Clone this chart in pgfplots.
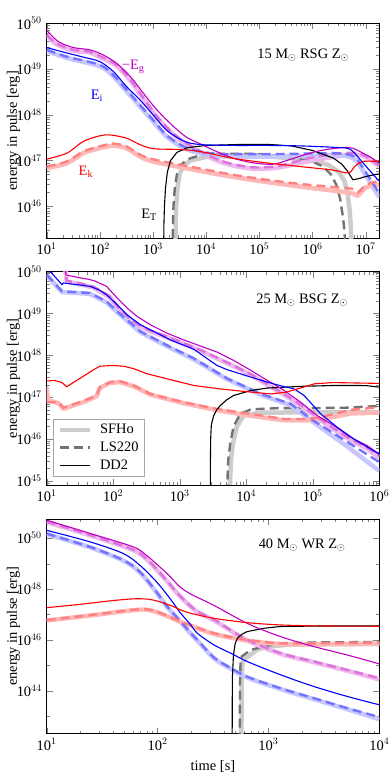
\documentclass[border=0pt]{standalone}
\usepackage{fontspec}
\setmainfont{Liberation Serif}
\usepackage{pgfplots}
\pgfplotsset{compat=1.18}
\definecolor{mag}{rgb}{0.75,0,0.75}
\pgfplotsset{
  every axis/.append style={
    scale only axis, width=332.6bp, xmin=10, anchor=north west,
    xticklabel={10\textsuperscript{\pgfmathprintnumber[fixed,precision=0]{\tick}}},
    yticklabel={10\textsuperscript{\pgfmathprintnumber[fixed,precision=0]{\tick}}},
    ylabel={energy in pulse [erg]},
    ylabel style={at={(axis description cs:-0.1,0.5)}, anchor=center, rotate=0},
    major tick length=6bp, minor tick length=3bp,
    axis line style={line width=0.8bp},
  },
  sf/.style={line width=4.5bp, line join=round, forget plot},
  ls/.style={line width=2.4bp, dash pattern=on 9bp off 5bp, forget plot},
  dd/.style={line width=1.1bp, forget plot},
}
\begin{document}
\fontsize{14.5}{17.4}\selectfont
\begin{tikzpicture}
\path[use as bounding box] (0,0) rectangle (390bp,-781bp);
%% ---------------- panel 1 ----------------
\begin{axis}[xmode=log, ymode=log, log basis x=10, log basis y=10,
  at={(46.67bp,-23.3bp)}, height=215bp,
  xmax=1.8e7, ymin=2e45, ymax=1e50]
\addplot[sf, black!20] coordinates {(2630,1e45)(2660,3.98e45)(2720,1e46)(2880,2.51e46)(3160,5.01e46)(3720,7.6e46)(5010,1.0e47)(1e4,1.2e47)(31620,1.26e47)(1e5,1.26e47)(3.16e5,1.15e47)(1e6,1.0e47)(2e6,8.0e46)(3.16e6,5.5e46)(4.0e6,3.5e46)(4.6e6,1.8e46)(5.0e6,8e45)(5.25e6,3.5e45)(5.4e6,1e45)};
\addplot[ls, black!55] coordinates {(2344,1e45)(2371,3.98e45)(2427,1e46)(2570,2.51e46)(2818,5.01e46)(3311,7.94e46)(4467,1.07e47)(7943,1.32e47)(19950,1.41e47)(79430,1.41e47)(2.51e5,1.26e47)(5.75e5,1.07e47)(1e6,9.5e46)(1.58e6,7.4e46)(2.24e6,4.9e46)(2.82e6,2.9e46)(3.31e6,1.45e46)(3.72e6,6.0e45)(3.98e6,3.0e45)(4.17e6,1.0e45)};
\addplot[sf, mag!28, smooth] coordinates {(10,5.4e49)(15.8,3.4e49)(31.6,2.5e49)(63.1,2.3e49)(100,1.82e49)(200,1.2e49)(355,6.0e48)(631,2.4e48)(1122,9.5e47)(2239,4.0e47)(3981,2.4e47)(7943,1.5e47)(15850,1.0e47)(31620,7.8e46)(79430,6.6e46)(2e5,6.9e46)(3.98e5,8.0e46)(1e6,1.0e47)(2.51e6,1.2e47)(6.31e6,1.35e47)(1e7,1.2e47)(1.78e7,7.5e46)};
\addplot[sf, blue!22, smooth] coordinates {(10,2.5e49)(24,1.75e49)(100,1.15e49)(178,7.0e48)(316,3.3e48)(562,1.55e48)(1000,7.2e47)(1778,3.4e47)(3715,1.9e47)(7586,1.45e47)(15490,1.28e47)(31620,1.22e47)(1.35e5,1.22e47)(5.75e5,1.25e47)(2.45e6,1.3e47)(4.37e6,1.25e47)(6.61e6,1.0e47)(1.02e7,4.6e46)(1.78e7,1.6e46)};
\addplot[sf, red!28, smooth] coordinates {(10,6.8e46)(24,8.7e46)(49,1.45e47)(100,1.86e47)(178,2.1e47)(316,1.86e47)(562,1.23e47)(1000,9.5e46)(3162,7.2e46)(1e4,5.6e46)(31620,4.4e46)(1.35e5,3.4e46)(5.75e5,2.7e46)(2.45e6,2.2e46)(5.75e6,1.9e46)(7.08e6,1.7e46)(1.02e7,2.6e46)(1.78e7,3.0e46)};
\addplot[ls, mag!55, smooth] coordinates {(10,5.62e49)(15.8,3.55e49)(31.6,2.63e49)(63.1,2.40e49)(100,1.91e49)(200,1.26e49)(355,6.31e48)(631,2.51e48)(1122,1e48)(2239,4.17e47)(3981,2.51e47)(7943,1.58e47)(15850,1.07e47)(31620,8.32e46)(79430,7.08e46)(2e5,7.41e46)(3.98e5,8.91e46)(1e6,1.17e47)(2.51e6,1.38e47)(6.31e6,1.48e47)(1e7,1.26e47)(1.78e7,7.94e46)};
\addplot[ls, blue!55, smooth] coordinates {(10,2.63e49)(24,1.86e49)(100,1.23e49)(178,7.41e48)(316,3.55e48)(562,1.66e48)(1000,7.76e47)(1778,3.63e47)(3715,2.04e47)(7586,1.58e47)(15490,1.41e47)(31620,1.38e47)(1.35e5,1.38e47)(5.75e5,1.41e47)(2.45e6,1.45e47)(4.37e6,1.38e47)(6.61e6,1.12e47)(1.02e7,5.37e46)(1.78e7,1.95e46)};
\addplot[ls, red!50, smooth] coordinates {(10,7.41e46)(24,9.55e46)(49,1.58e47)(100,2.04e47)(178,2.34e47)(316,2.04e47)(562,1.35e47)(1000,1.07e47)(3162,8.13e46)(1e4,6.31e46)(31620,4.9e46)(1.35e5,3.8e46)(5.75e5,3.09e46)(2.45e6,2.63e46)(5.75e6,2.4e46)(7.08e6,2.0e46)(1.02e7,2.95e46)(1.78e7,3.55e46)};
\addplot[dd, black] coordinates {(1585,1e45)(1603,3.98e45)(1641,1e46)(1718,2.51e46)(1862,5.62e46)(2138,1e47)(2818,1.51e47)(4467,1.91e47)(1e4,2.14e47)(39810,2.24e47)(1.58e5,2.24e47)(3.98e5,2.09e47)(1e6,1.66e47)(2.51e6,1.12e47)(3.55e6,8.32e46)(4.47e6,6.03e46)(5.25e6,4.47e46)(5.75e6,3.8e46)(7.08e6,3.98e46)(1e7,4.47e46)(1.78e7,5.13e46)};
\addplot[dd, mag, smooth] coordinates {(10,7.08e49)(16.6,3.98e49)(31.6,2.95e49)(64.6,2.63e49)(115,2.04e49)(204,1.35e49)(372,6.92e48)(661,2.95e48)(1175,1.29e48)(2399,5.62e47)(4266,3.24e47)(7586,2.34e47)(15490,1.58e47)(32360,1.12e47)(75860,8.91e46)(1.82e5,8.32e46)(3.72e5,1.05e47)(8.91e5,1.45e47)(1.82e6,1.74e47)(4.37e6,1.95e47)(5.75e6,1.86e47)(8.91e6,1.45e47)(1.17e7,1.23e47)(1.78e7,8.91e46)};
\addplot[dd, blue, smooth] coordinates {(10,2.95e49)(24,2.24e49)(49,1.82e49)(100,1.45e49)(178,8.91e48)(316,4.17e48)(562,2.14e48)(1000,1e48)(1778,4.68e47)(3715,2.69e47)(7586,2.24e47)(31620,2.14e47)(1.35e5,2.14e47)(5.75e5,2.09e47)(2.45e6,1.95e47)(4.37e6,1.86e47)(5.75e6,1.58e47)(1.02e7,7.41e46)(1.78e7,3.55e46)};
\addplot[dd, red, smooth] coordinates {(10,1.07e47)(24,1.45e47)(49,2.63e47)(100,3.47e47)(155,3.63e47)(316,3.09e47)(562,2.24e47)(1000,1.82e47)(3162,1.74e47)(7586,1.58e47)(31620,1.12e47)(1.35e5,8.91e46)(5.75e5,7.41e46)(2.45e6,6.17e46)(4.79e6,5.37e46)(6.31e6,7.59e46)(8.91e6,9.55e46)(1.78e7,9.55e46)};
\node at (rel axis cs:0.771,0.853) {15 M$_\odot$ RSG Z$_\odot$};
\node[mag] at (rel axis cs:0.26,0.797) {−E\textsubscript{g}};
\node[blue] at (rel axis cs:0.151,0.661) {E\textsubscript{i}};
\node[red] at (rel axis cs:0.118,0.308) {E\textsubscript{k}};
\node[black] at (rel axis cs:0.308,0.108) {E\textsubscript{T}};
\end{axis}
%% ---------------- panel 2 ----------------
\begin{axis}[xmode=log, ymode=log, log basis x=10, log basis y=10,
  at={(46.67bp,-271.7bp)}, height=213.3bp,
  xmax=1e6, ymin=8e44, ymax=1e50,
  legend image code/.code={\draw[#1] (0bp,0bp) -- (30bp,0bp);},
  legend style={at={(0.02,0.04)}, anchor=south west, draw=black!35, line width=0.5bp,
    inner xsep=4bp, inner ysep=3bp, row sep=2bp,
    /tikz/every odd column/.append style={column sep=6bp}},
  legend cell align=left]
\addlegendimage{black!20, line width=4.5bp}
\addlegendentry{SFHo}
\addlegendimage{black!55, line width=2.4bp, dash pattern=on 9bp off 5bp}
\addlegendentry{LS220}
\addlegendimage{black, line width=1.1bp}
\addlegendentry{DD2}
\addplot[sf, black!20] coordinates {(5623,5e44)(5888,3.16e45)(6310,7.94e45)(7244,2.0e46)(9120,3.63e46)(15850,4.27e46)(1e5,4.37e46)(1e6,4.37e46)};
\addplot[ls, black!55] coordinates {(5129,5.01e44)(5370,3.16e45)(5754,7.94e45)(6457,2.0e46)(8128,3.98e46)(11750,5.13e46)(31620,5.5e46)(1e5,5.5e46)(3.16e5,5.62e46)(1e6,6.17e46)};
\addplot[sf, mag!28] coordinates {(18.6,1.58e50)(20,5.8e49)(31.6,5.0e49)(50.1,4.2e49)(89.1,2.45e49)(126,1.2e49)(204,6.0e48)(355,3.8e48)(646,2.7e48)(2042,1.3e48)(6457,5.5e47)(11750,3.4e47)(19950,2.05e47)(39810,1.07e47)(66070,6.3e46)(1.17e5,3.2e46)(2.09e5,1.68e46)(3.72e5,9.3e45)(6.61e5,5.9e45)(1e6,3.6e45)};
\addplot[sf, blue!22] coordinates {(10,8.2e49)(17,3.25e49)(44.7,2.95e49)(79.4,1.85e49)(115,1.07e49)(257,3.55e48)(724,1.5e48)(1622,8.1e47)(5129,2.7e47)(16600,1.14e47)(46770,6.4e46)(1e5,2.6e46)(3.16e5,7.0e45)(1e6,1.74e45)};
\addplot[sf, red!28] coordinates {(10,1.74e47)(10.5,8.5e46)(15.1,7.2e46)(17.8,5.3e46)(35.5,7.6e46)(56.2,1.05e47)(63.1,1.66e47)(89.1,2.2e47)(126,2.3e47)(204,1.82e47)(363,1.15e47)(1148,7.2e46)(3631,4.9e46)(11750,3.6e46)(37150,2.8e46)(79430,2.8e46)(1.17e5,2.9e46)(2.09e5,3.4e46)(3.72e5,4.1e46)(1e6,4.3e46)};
\addplot[ls, mag!55] coordinates {(18.6,1.58e50)(20,6.03e49)(31.6,5.25e49)(50.1,4.37e49)(89.1,2.57e49)(126,1.26e49)(204,6.31e48)(355,3.98e48)(646,2.82e48)(2042,1.35e48)(6457,5.75e47)(11750,3.55e47)(19950,2.14e47)(39810,1.12e47)(66070,6.61e46)(1.17e5,3.39e46)(2.09e5,1.78e46)(3.72e5,1e46)(6.61e5,6.31e45)(1e6,3.98e45)};
\addplot[ls, blue!55] coordinates {(10,8.51e49)(17,3.39e49)(44.7,3.09e49)(79.4,1.95e49)(115,1.12e49)(257,3.72e48)(724,1.58e48)(1622,8.51e47)(5129,2.82e47)(16600,1.2e47)(46770,6.92e46)(1e5,2.82e46)(3.16e5,8.91e45)(1e6,2.82e45)};
\addplot[ls, red!50] coordinates {(10,7.59e46)(15.1,7.59e46)(17.8,5.62e46)(35.5,8.13e46)(56.2,1.1e47)(63.1,1.74e47)(89.1,2.29e47)(126,2.4e47)(204,1.91e47)(363,1.2e47)(1148,7.59e46)(3631,5.25e46)(11750,3.98e46)(37150,3.02e46)(79430,3.02e46)(1.17e5,3.24e46)(2.09e5,3.98e46)(3.72e5,5.01e46)(1e6,5.75e46)};
\addplot[dd, black] coordinates {(2884,5e44)(2895,3e45)(2920,1.0e46)(2990,2.2e46)(3240,3.6e46)(3600,5.0e46)(4070,6.31e46)(5000,8.5e46)(6460,1.1e47)(11750,1.45e47)(20890,1.66e47)(66070,1.82e47)(2.09e5,1.91e47)(6.3e5,1.9e47)(1e6,1.74e47)};
\addplot[dd, mag] coordinates {(18.6,1.58e50)(19.5,8.32e49)(28.2,7.41e49)(44.7,6.46e49)(52.5,6.03e49)(79.4,4.47e49)(115,2.34e49)(162,1.35e49)(229,8.51e48)(363,5.37e48)(646,3.39e48)(1148,2.34e48)(3631,1.2e48)(6457,7.59e47)(11750,4.37e47)(20890,2.51e47)(37150,1.45e47)(66070,7.59e46)(1.17e5,3.63e46)(2.09e5,2.09e46)(3.72e5,1.1e46)(6.61e5,6.92e45)(1e6,4.37e45)};
\addplot[dd, blue] coordinates {(10,1.26e50)(17,4.9e49)(17.8,5.37e49)(44.7,4.47e49)(60.3,3.72e49)(79.4,2.82e49)(115,1.62e49)(162,9.33e48)(257,5.37e48)(724,2.34e48)(1622,1.41e48)(3631,5.75e47)(5129,4.57e47)(11750,3.02e47)(20890,2.29e47)(31620,1.91e47)(52480,1.58e47)(74130,1.1e47)(1.32e5,3.98e46)(2.34e5,1.91e46)(4.17e5,1e46)(1e6,4.37e45)};
\addplot[dd, red] coordinates {(10,2.45e47)(13.2,2.51e47)(17,2.24e47)(20,1.78e47)(25.1,2.24e47)(53.7,4.79e47)(63.1,5.5e47)(100,5.75e47)(145,5.5e47)(204,4.79e47)(324,3.63e47)(646,2.75e47)(1622,1.91e47)(4074,1.58e47)(9120,1.38e47)(23440,1.2e47)(39810,1.32e47)(58880,1.58e47)(1.05e5,2.09e47)(2e5,2.24e47)(1e6,2.14e47)};
\node at (rel axis cs:0.768,0.867) {25 M$_\odot$ BSG Z$_\odot$};
\end{axis}
%% ---------------- panel 3 ----------------
\begin{axis}[xmode=log, ymode=log, log basis x=10, log basis y=10,
  at={(46.67bp,-519bp)}, height=214.5bp,
  xmax=1e4, ymin=2.1e42, ymax=5.7e50,
  ytick={1e44,1e46,1e48,1e50}, minor ytick={1e43,1e45,1e47,1e49},
  xlabel={time [s]}]
\addplot[sf, black!20] coordinates {(571,1e42)(574,3.16e44)(582,1.26e45)(631,2.0e45)(794,4.17e45)(1000,5.5e45)(1585,6.6e45)(1e4,7.08e45)};
\addplot[ls, black!55] coordinates {(552,1e42)(555,3.16e44)(562,1.58e45)(575,2.24e45)(692,4.07e45)(912,5.5e45)(1288,7.41e45)(2512,7.94e45)(1e4,8.32e45)};
\addplot[sf, mag!28, smooth] coordinates {(10,4.3e50)(25.1,1.27e50)(60.3,3.4e49)(79.4,1.5e49)(100,5.3e48)(126,1.7e48)(158,5.4e47)(224,1.35e47)(324,5.9e46)(457,2.3e46)(646,9.5e45)(1288,2.85e45)(2570,1.33e45)(5129,6.2e44)(1e4,2.8e44)};
\addplot[sf, blue!22, smooth] coordinates {(10,1.45e50)(24.5,4.4e49)(49,1.32e49)(69.2,4.6e48)(97.7,7.4e47)(123,1.9e47)(162,5.0e46)(200,1.72e46)(229,9.4e45)(324,1.88e45)(457,7.4e44)(646,3.3e44)(1288,1.17e44)(2570,4.7e43)(5129,1.9e43)(1e4,7.6e42)};
\addplot[sf, red!28, smooth] coordinates {(10,5.8e46)(25.1,9.2e46)(64.6,1.52e47)(89.1,1.42e47)(129,7.8e46)(162,5.0e46)(200,3.6e46)(324,1.72e46)(646,9.4e45)(1288,6.9e45)(3162,6.8e45)(1e4,7.0e45)};
\addplot[ls, mag!55, smooth] coordinates {(10,4.47e50)(25.1,1.32e50)(60.3,3.55e49)(79.4,1.58e49)(100,5.62e48)(126,1.78e48)(158,5.62e47)(224,1.41e47)(324,6.31e46)(457,2.45e46)(646,1e46)(1288,3.02e45)(2570,1.41e45)(5129,6.61e44)(1e4,3.16e44)};
\addplot[ls, blue!55, smooth] coordinates {(10,1.51e50)(24.5,4.57e49)(49,1.38e49)(69.2,4.79e48)(97.7,7.76e47)(123,2.0e47)(162,5.25e46)(200,1.82e46)(229,1.0e46)(324,2.0e45)(457,7.94e44)(646,3.55e44)(1288,1.26e44)(2570,5.13e43)(5129,2.09e43)(1e4,9.33e42)};
\addplot[ls, red!50, smooth] coordinates {(10,6.03e46)(25.1,9.55e46)(64.6,1.58e47)(89.1,1.48e47)(129,8.13e46)(162,5.25e46)(200,3.8e46)(324,1.82e46)(646,1e46)(1288,7.41e45)(3162,7.41e45)(1e4,7.94e45)};
\addplot[dd, black] coordinates {(471,1e42)(473,3.16e44)(484,2.51e45)(501,7.08e45)(525,1.17e46)(575,1.66e46)(646,2.14e46)(912,2.88e46)(1288,3.39e46)(3162,3.55e46)(1e4,3.55e46)};
\addplot[dd, mag, smooth] coordinates {(10,5.13e50)(25.1,1.51e50)(60.3,4.57e49)(79.4,2.14e49)(100,8.91e48)(126,3.55e48)(158,1.26e48)(200,6.31e47)(316,2.4e47)(646,4.47e46)(1288,1.35e46)(2570,5.5e45)(5129,2.57e45)(1e4,1.15e45)};
\addplot[dd, blue, smooth] coordinates {(10,2.04e50)(24.5,7.24e49)(49,2.51e49)(69.2,8.71e48)(97.7,1.95e48)(126,5.0e47)(162,1.12e47)(200,3.89e46)(229,1.82e46)(324,6.31e45)(457,3.02e45)(646,1.41e45)(1288,4.27e44)(2570,1.48e44)(5129,6.03e43)(1e4,2.82e43)};
\addplot[dd, red, smooth] coordinates {(10,1.86e47)(20,2.51e47)(39.8,3.55e47)(64.6,4.17e47)(89.1,3.8e47)(129,2.34e47)(162,1.51e47)(200,1.12e47)(324,7.08e46)(646,4.79e46)(1288,3.89e46)(3162,3.55e46)(1e4,3.47e46)};
\node at (rel axis cs:0.768,0.879) {40 M$_\odot$ WR Z$_\odot$};
\end{axis}
\end{tikzpicture}
\end{document}
